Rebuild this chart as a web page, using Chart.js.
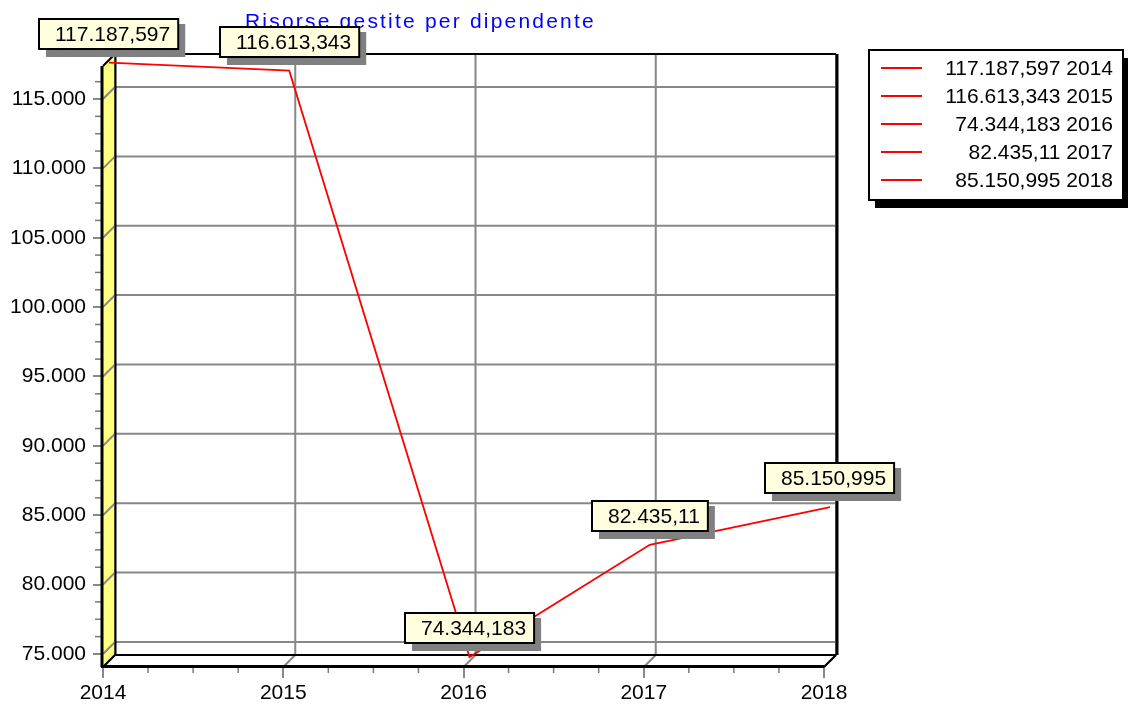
<!DOCTYPE html>
<html>
<head>
<meta charset="utf-8">
<script src="https://cdn.jsdelivr.net/npm/chart.js@4.4.0/dist/chart.umd.min.js"></script>
<style>
  html, body { margin: 0; padding: 0; background: #fff; }
  #wrap { width: 1128px; height: 705px; }
</style>
</head>
<body>
<div id="wrap"><canvas id="chart"></canvas></div>
<script>
// ======== Dati ========
const titleText = 'Risorse gestite per dipendente';
const years = ['2014', '2015', '2016', '2017', '2018'];
const values = [117187.597, 116613.343, 74344.183, 82435.11, 85150.995];
const yTicks = [75000, 80000, 85000, 90000, 95000, 100000, 105000, 110000, 115000];
const yMin = 74060;
const yMax = 117380;
const yMinorStep = 1250;

const FONT = '"Liberation Sans", Arial, sans-serif';
const DX = 12, DY = -12;       // profondità del "3D"
const MX = 6, MY = -6;         // piano della linea

// formato italiano: 117187.597 -> 117.187,597
function itNum(v) {
  const parts = String(v).split('.');
  const int = parts[0].replace(/\B(?=(\d{3})+(?!\d))/g, '.');
  return parts[1] ? int + ',' + parts[1] : int;
}

// ======== Pareti, griglia, bordi ========
const wallPlugin = {
  id: 'wall3d',
  beforeDatasetsDraw(chart) {
    const { ctx, chartArea: a, scales: { x, y } } = chart;
    ctx.save();

    // parete sinistra gialla
    ctx.fillStyle = '#ffff80';
    ctx.beginPath();
    ctx.moveTo(a.left, a.top);
    ctx.lineTo(a.left + DX, a.top + DY);
    ctx.lineTo(a.left + DX, a.bottom + DY);
    ctx.lineTo(a.left, a.bottom);
    ctx.closePath();
    ctx.fill();

    // griglia grigia sul fondo
    ctx.strokeStyle = '#888';
    ctx.lineWidth = 2;
    yTicks.forEach(v => {
      const py = y.getPixelForValue(v);
      ctx.beginPath();
      ctx.moveTo(a.left, py);
      ctx.lineTo(a.left + DX, py + DY);
      ctx.lineTo(a.right + DX, py + DY);
      ctx.stroke();
    });
    years.forEach((yr, i) => {
      const px = x.getPixelForValue(i);
      ctx.beginPath();
      ctx.moveTo(px, a.bottom);
      ctx.lineTo(px + DX, a.bottom + DY);
      ctx.lineTo(px + DX, a.top + DY);
      ctx.stroke();
    });

    // tacche minori
    ctx.strokeStyle = '#777';
    ctx.lineWidth = 1.5;
    for (let v = yTicks[0] - yMinorStep * 0; v <= yMax; v += yMinorStep) {
      if (v % 5000 === 0) continue;
      const py = y.getPixelForValue(v);
      ctx.beginPath();
      ctx.moveTo(a.left - 8, py);
      ctx.lineTo(a.left - 2, py);
      ctx.stroke();
    }
    for (let i = 0; i < years.length - 1; i++) {
      for (let q = 1; q < 4; q++) {
        const px = x.getPixelForValue(i + q / 4);
        ctx.beginPath();
        ctx.moveTo(px, a.bottom + 1);
        ctx.lineTo(px, a.bottom + 6);
        ctx.stroke();
      }
    }

    // bordi neri
    ctx.strokeStyle = '#000';
    ctx.lineWidth = 2;
    ctx.beginPath();
    ctx.moveTo(a.left, a.top);
    ctx.lineTo(a.left + DX, a.top + DY);
    ctx.lineTo(a.right + DX, a.top + DY);
    ctx.moveTo(a.left + DX + 0.5, a.top + DY);
    ctx.lineTo(a.left + DX + 0.5, a.bottom + DY);
    ctx.lineTo(a.right + DX, a.bottom + DY);
    ctx.moveTo(a.left, a.bottom);
    ctx.lineTo(a.left + DX, a.bottom + DY);
    ctx.moveTo(a.right, a.bottom);
    ctx.lineTo(a.right + DX, a.bottom + DY);
    ctx.stroke();

    ctx.lineWidth = 3;
    ctx.beginPath();
    ctx.moveTo(a.right + DX + 1, a.top + DY);
    ctx.lineTo(a.right + DX + 1, a.bottom + DY);
    ctx.moveTo(a.left - 1, a.top);
    ctx.lineTo(a.left - 1, a.bottom);
    ctx.moveTo(a.left - 2, a.bottom - 0.5);
    ctx.lineTo(a.right, a.bottom - 0.5);
    ctx.stroke();

    ctx.restore();
  },
  beforeDatasetDraw(chart) {
    chart.ctx.save();
    chart.ctx.translate(MX, MY);
  },
  afterDatasetDraw(chart) {
    chart.ctx.restore();
  }
};

// ======== Titolo, legenda, etichette ========
const labelPlugin = {
  id: 'labels3d',
  afterDatasetsDraw(chart) {
    const { ctx } = chart;
    ctx.save();

    // titolo
    ctx.font = '21px ' + FONT;
    ctx.letterSpacing = '2.2px';
    ctx.fillStyle = '#0000ff';
    ctx.textAlign = 'left';
    ctx.textBaseline = 'alphabetic';
    ctx.fillText(titleText, 245, 28);
    ctx.letterSpacing = '0px';

    // legenda
    const lx = 869, ly = 50, lw = 254, lh = 150;
    ctx.fillStyle = '#000';
    ctx.fillRect(lx + 6, ly + 8, lw, lh);
    ctx.fillStyle = '#fff';
    ctx.fillRect(lx, ly, lw, lh);
    ctx.strokeStyle = '#000';
    ctx.lineWidth = 2;
    ctx.strokeRect(lx, ly, lw, lh);
    ctx.font = '21px ' + FONT;
    ctx.textAlign = 'right';
    ctx.textBaseline = 'middle';
    years.forEach((yr, i) => {
      const ry = 68 + i * 28;
      ctx.strokeStyle = '#ff0000';
      ctx.lineWidth = 2;
      ctx.beginPath();
      ctx.moveTo(881, ry);
      ctx.lineTo(922, ry);
      ctx.stroke();
      ctx.fillStyle = '#000';
      ctx.fillText(itNum(values[i]) + ' ' + yr, 1113, ry + 1);
    });

    // etichette dei valori
    const meta = chart.getDatasetMeta(0);
    meta.data.forEach((pt, i) => {
      const text = itNum(values[i]);
      const tw = ctx.measureText(text).width;
      const bw = tw + 24, bh = 30;
      const px = pt.x + MX, py = pt.y + MY;
      const bx = Math.round(px - bw / 2), by = Math.round(py - 14 - bh);
      ctx.fillStyle = '#808080';
      ctx.fillRect(bx + 7, by + 5, bw, bh + 3);
      ctx.fillStyle = '#ffffe0';
      ctx.fillRect(bx, by, bw, bh);
      ctx.strokeStyle = '#000';
      ctx.lineWidth = 2;
      ctx.strokeRect(bx, by, bw, bh);
      ctx.fillStyle = '#000';
      ctx.textAlign = 'right';
      ctx.fillText(text, bx + bw - 8, by + bh / 2 + 1);
    });

    ctx.restore();
  }
};

// ======== Grafico ========
new Chart(document.getElementById('chart'), {
  type: 'line',
  data: {
    labels: years,
    datasets: [{
      data: values,
      borderColor: '#ff0000',
      borderWidth: 1.8,
      pointRadius: 0,
      tension: 0,
      clip: false
    }]
  },
  options: {
    responsive: true,
    maintainAspectRatio: false,
    animation: false,
    layout: { padding: { top: 66, right: 304, bottom: 0, left: 0 } },
    plugins: {
      legend: { display: false },
      title: { display: false },
      tooltip: { enabled: false }
    },
    scales: {
      x: {
        type: 'category',
        offset: false,
        border: { display: false },
        grid: { display: true, drawOnChartArea: false, drawTicks: true, tickLength: 11, color: '#888', lineWidth: 2 },
        ticks: { color: '#000', font: { family: FONT, size: 21 }, padding: 3, maxRotation: 0, autoSkip: false },
        afterFit: s => { s.height = 38; }
      },
      y: {
        min: yMin,
        max: yMax,
        border: { display: false },
        afterBuildTicks: s => { s.ticks = yTicks.map(v => ({ value: v })); },
        grid: { display: true, drawOnChartArea: false, drawTicks: true, tickLength: 10, color: '#888', lineWidth: 2 },
        ticks: { color: '#000', font: { family: FONT, size: 21 }, padding: 7, callback: v => itNum(v) },
        afterFit: s => { s.width = 103; }
      }
    }
  },
  plugins: [wallPlugin, labelPlugin]
});
</script>
</body>
</html>
